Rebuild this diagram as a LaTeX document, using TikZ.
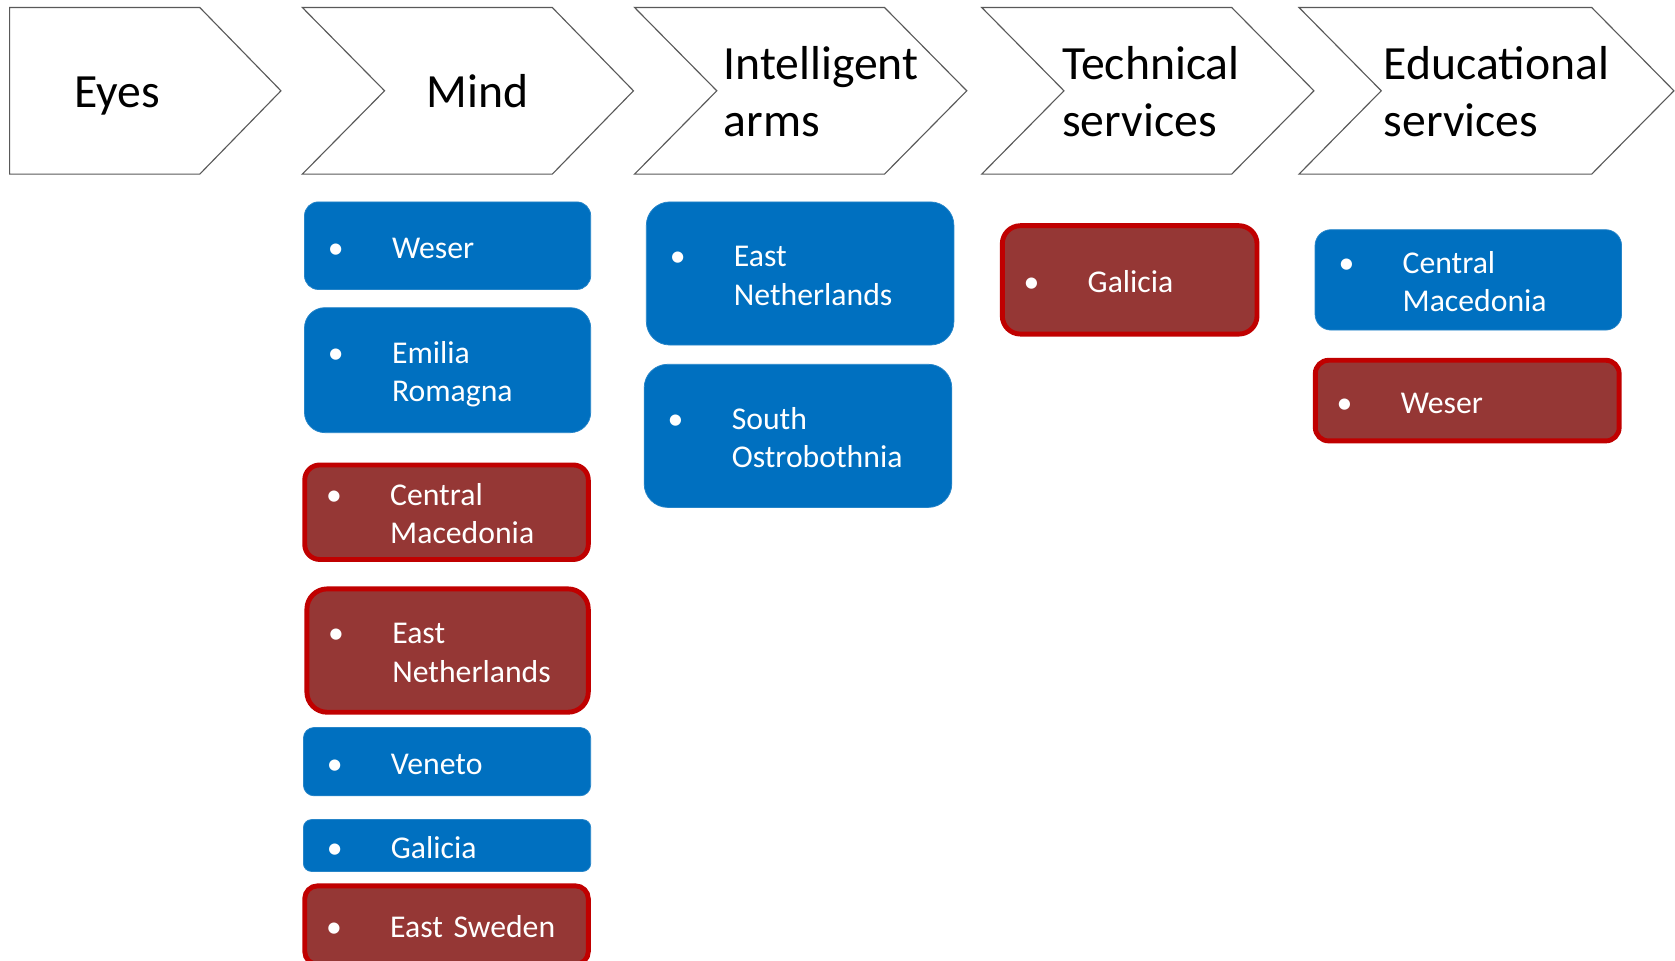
\documentclass[tikz,border=0pt]{standalone}
\usepackage{fontspec}
\setmainfont{Carlito}
\usepackage{array}
\definecolor{boxblue}{HTML}{0070C0}
\definecolor{boxred}{HTML}{953735}
\definecolor{edgered}{HTML}{C00000}
\definecolor{chevgray}{HTML}{595959}

\newcommand{\regionone}[1]{\raisebox{0pt}[\dimexpr\height+0.18cm\relax][\depth]{%
  \begin{tabular}{@{}p{1.2cm}@{}l@{}}\textbullet & #1\end{tabular}}}
\newcommand{\regiontwo}[2]{\raisebox{0pt}[\dimexpr\height+0.18cm\relax][\depth]{%
  \begin{tabular}{@{}p{1.2cm}@{}l@{}}\textbullet & #1\\ & #2\end{tabular}}}

\tikzset{
  chev/.style={draw=chevgray, line width=0.6pt, fill=white},
  head/.style={inner sep=0pt, align=left, font=\fontsize{25.4}{30.4}\selectfont},
  region/.style={rounded corners=#1, text=white, align=left, inner ysep=1pt,
    font=\fontsize{16.9}{20.5}\selectfont},
  keep/.style={region=#1, fill=boxblue, draw=boxblue!85!white, line width=0.4pt, inner xsep=0.44cm},
  drop/.style={region=#1, fill=boxred, draw=edgered, line width=2.6pt, inner xsep=0.40cm},
}

\begin{document}
\begin{tikzpicture}[x=0.02cm, y=-0.02cm]
    \useasboundingbox (0,0) rectangle (1568,899);
    \clip (0,0) rectangle (1568,899);

    % Pfeile oben
    \draw[chev] (9,7) -- (187,7) -- (263,85) -- (187,163) -- (9,163) -- cycle;
    \draw[chev] (283,7) -- (517,7) -- (593,85) -- (517,163) -- (283,163) -- (360,85) -- cycle;
    \draw[chev] (594,7) -- (828,7) -- (905,85) -- (828,163) -- (594,163) -- (671,85) -- cycle;
    \draw[chev] (919,7) -- (1153,7) -- (1230,85) -- (1153,163) -- (919,163) -- (996,85) -- cycle;
    \draw[chev] (1216,7) -- (1490,7) -- (1567,85) -- (1490,163) -- (1216,163) -- (1293,85) -- cycle;

    % Beschriftung der Pfeile (base = letzte Zeile)
    \node[head, anchor=base] (eyes) at (110,101) {Eyes};
    \node[head, anchor=base] (mind) at (447,101) {Mind};
    \node[head, anchor=base west] (arms) at (677,128) {Intelligent\\arms};
    \node[head, anchor=base west] (tech) at (994,128) {Technical\\services};
    \node[head, anchor=base west] (edu) at (1295,128) {Educational\\services};

    % Spalte Mind
    \node[keep=0.26cm, text width=4.48cm, minimum height=1.64cm] (mweser) at (419,230) {\regionone{Weser}};
    \node[keep=0.38cm, text width=4.48cm, minimum height=2.34cm] (memilia) at (419,346.5) {\regiontwo{Emilia}{Romagna}};
    \node[drop=0.28cm, text width=4.51cm, minimum height=1.77cm] (mmaced) at (418,479.5) {\regiontwo{Central}{Macedonia}};
    \node[drop=0.38cm, text width=4.47cm, minimum height=2.31cm] (mneth) at (419,609) {\regiontwo{East}{Netherlands}};
    \node[keep=0.20cm, text width=4.50cm, minimum height=1.28cm] (mveneto) at (418.5,713) {\regionone{Veneto}};
    \node[keep=0.15cm, text width=4.50cm, minimum height=0.94cm] (mgalicia) at (418.5,791.5) {\regionone{Galicia}};
    \node[drop=0.24cm, text width=4.51cm, minimum height=1.47cm] (msweden) at (418,866) {\regionone{East Sweden}};

    % Spalte Intelligent arms
    \node[keep=0.44cm, text width=4.88cm, minimum height=2.68cm] (aneth) at (749,256) {\regiontwo{East}{Netherlands}};
    \node[keep=0.44cm, text width=4.88cm, minimum height=2.68cm] (aostro) at (747,408) {\regiontwo{South}{Ostrobothnia}};

    % Spalte Technical services
    \node[drop=0.34cm, text width=3.97cm, minimum height=2.03cm] (tgalicia) at (1057.5,262) {\regionone{Galicia}};

    % Spalte Educational services
    \node[keep=0.30cm, text width=4.86cm, minimum height=1.88cm] (emaced) at (1374.5,262) {\regiontwo{Central}{Macedonia}};
    \node[drop=0.25cm, text width=4.89cm, minimum height=1.51cm] (eweser) at (1373.5,375) {\regionone{Weser}};

\end{tikzpicture}
\end{document}
